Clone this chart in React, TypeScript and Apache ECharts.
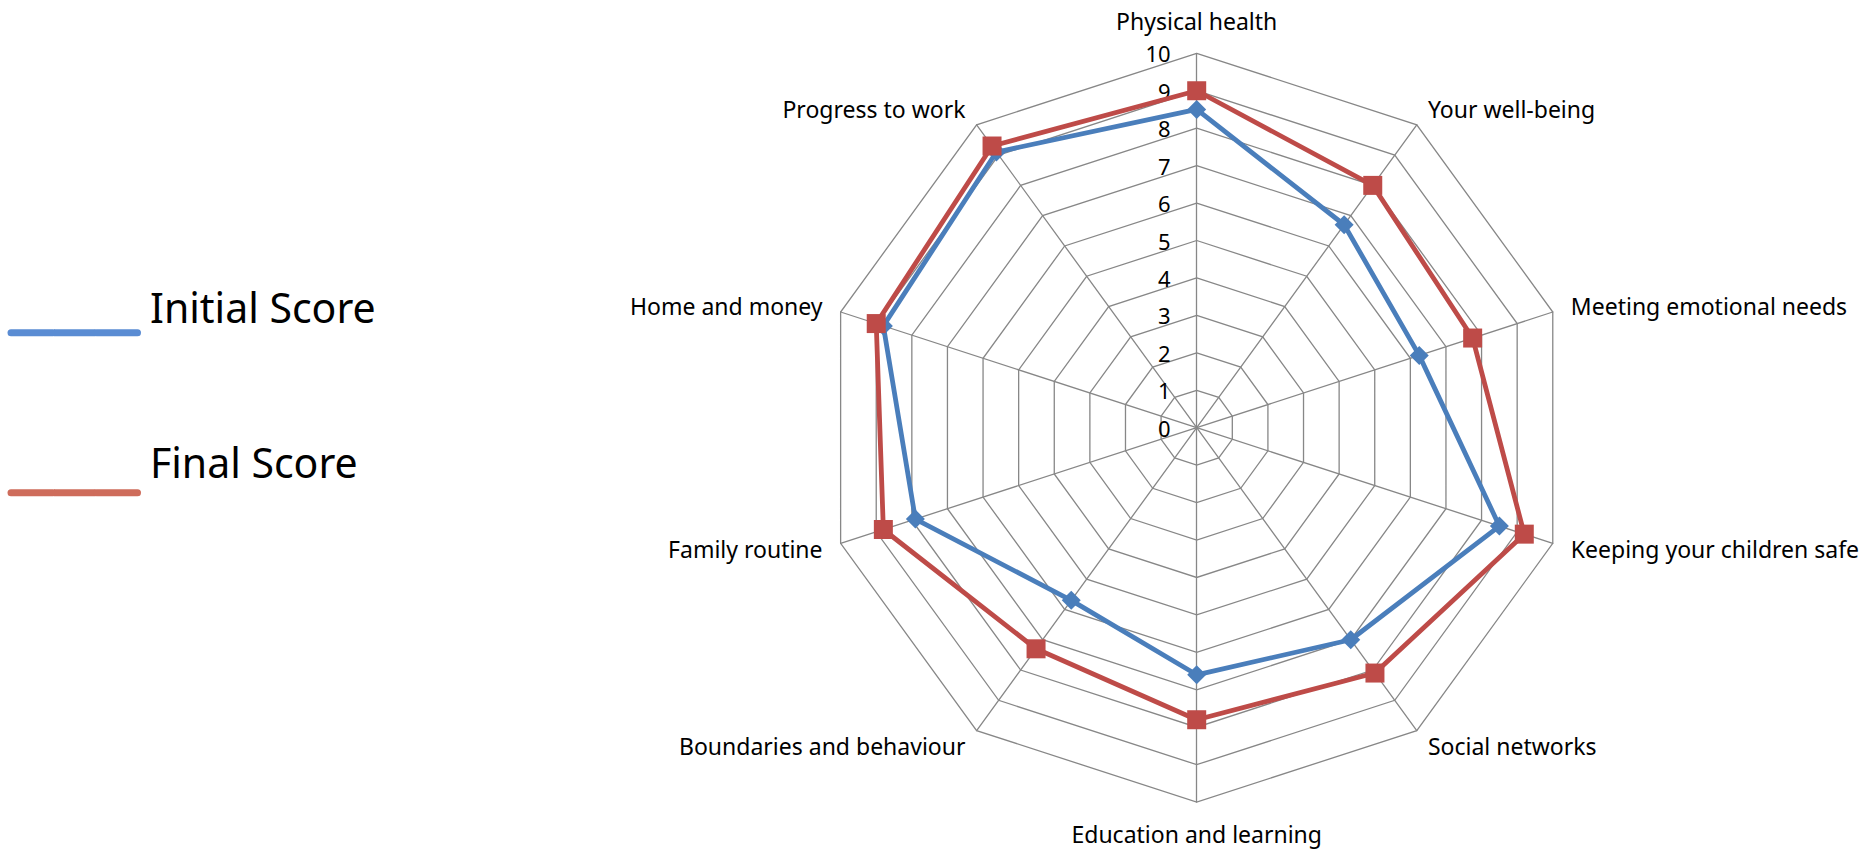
import React, { useEffect, useRef } from "react";
import * as echarts from "echarts";

// Categories in clockwise order starting at the top
const categories: string[] = [
  "Physical health",
  "Your well-being",
  "Meeting emotional needs",
  "Keeping your children safe",
  "Social networks",
  "Education and learning",
  "Boundaries and behaviour",
  "Family routine",
  "Home and money",
  "Progress to work",
];

const initialScore: number[] = [8.5, 6.7, 6.25, 8.5, 7.0, 6.6, 5.7, 7.9, 8.8, 9.1];
const finalScore: number[] = [9.0, 8.0, 7.75, 9.2, 8.1, 7.8, 7.3, 8.8, 9.0, 9.3];

const seriesNames: string[] = ["Initial Score", "Final Score"];
const axisMin = 0;
const axisMax = 10;

export default function App() {
  const ref = useRef<HTMLDivElement>(null);

  useEffect(() => {
    if (!ref.current) return;
    const chart = echarts.init(ref.current, undefined, { renderer: "svg" });

    // ECharts radar lays indicators out counter-clockwise; reorder to get clockwise
    const order = categories.map((_, i) => (i === 0 ? 0 : categories.length - i));
    const gridColor = "#878787";

    const indicator = order.map((idx, k) => {
      const ind: any = { name: categories[idx], min: axisMin, max: axisMax };
      if (k === 0) {
        ind.axisLabel = {
          show: true,
          color: "#000",
          fontSize: 22,
          fontFamily: "Noto Sans",
          margin: 26,
          lineHeight: 22,
          showMinLabel: true,
          showMaxLabel: true,
        };
      }
      return ind;
    });

    const option: any = {
      animation: false,
      backgroundColor: "#fff",
      radar: {
        center: [1196.7, 427.7],
        radius: 374.4,
        startAngle: 90,
        splitNumber: 10,
        shape: "polygon",
        nameGap: 19,
        axisName: {
          color: "#000",
          fontSize: 23,
          lineHeight: 26,
          fontFamily: "Noto Sans",
        },
        indicator,
        splitLine: { lineStyle: { color: gridColor, width: 1.3 } },
        splitArea: { show: false },
        axisLine: { lineStyle: { color: gridColor, width: 1.3 } },
        axisTick: { show: false },
      },
      series: [
        {
          type: "radar",
          z: 2,
          data: [
            {
              name: seriesNames[0],
              value: order.map((i) => initialScore[i]),
              symbol: "diamond",
              symbolSize: 19,
              lineStyle: { color: "#4A7EBB", width: 4.8 },
              itemStyle: { color: "#4A7EBB" },
            },
          ],
        },
        {
          type: "radar",
          z: 3,
          data: [
            {
              name: seriesNames[1],
              value: order.map((i) => finalScore[i]),
              symbol: "rect",
              symbolSize: 19,
              lineStyle: { color: "#BE4B48", width: 4.8 },
              itemStyle: { color: "#BE4B48" },
            },
          ],
        },
      ],
      graphic: [
        ...[
          { color: "#5A8CD3", y: 332.7, textY: 307, name: seriesNames[0] },
          { color: "#CE6C5B", y: 492.7, textY: 462, name: seriesNames[1] },
        ].flatMap((it) => [
          {
            type: "line",
            shape: { x1: 11, y1: it.y, x2: 53, y2: it.y },
            style: { stroke: it.color, lineWidth: 7, lineCap: "round" },
          },
          {
            type: "line",
            shape: { x1: 54, y1: it.y, x2: 95.5, y2: it.y },
            style: { stroke: it.color, lineWidth: 7, lineCap: "butt" },
          },
          {
            type: "line",
            shape: { x1: 96.5, y1: it.y, x2: 137.5, y2: it.y },
            style: { stroke: it.color, lineWidth: 7, lineCap: "round" },
          },
          {
            type: "text",
            x: 150,
            y: it.textY,
            style: {
              text: it.name,
              fill: "#000",
              fontSize: 41,
              fontFamily: "Noto Sans",
              verticalAlign: "middle",
              align: "left",
            },
          },
        ]),
      ],
    };

    chart.setOption(option);
    return () => chart.dispose();
  }, []);

  return (
    <div
      ref={ref}
      style={{ position: "fixed", left: 0, top: 0, width: "1864px", height: "849px" }}
    />
  );
}
